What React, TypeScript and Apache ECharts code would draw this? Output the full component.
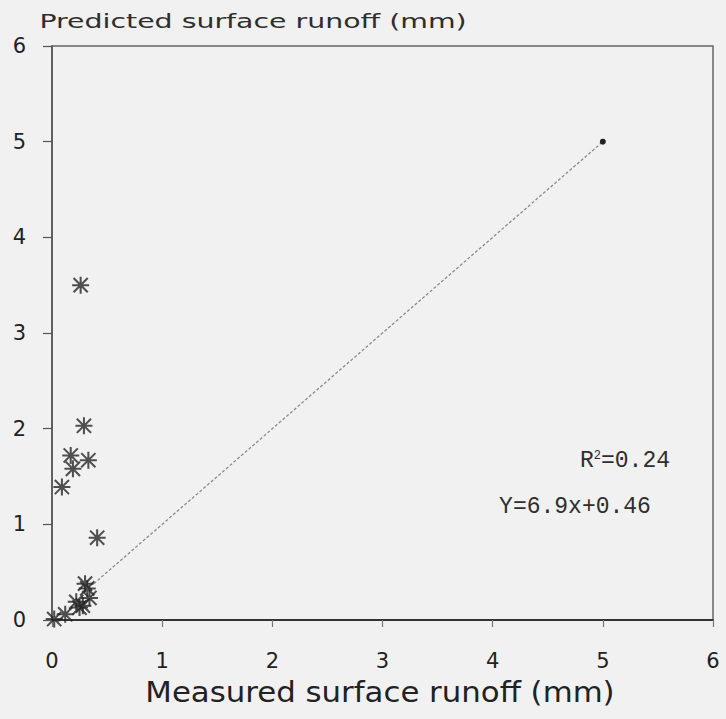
import React, { useEffect, useRef } from "react";
import * as echarts from "echarts";

// Measured vs predicted surface runoff (mm)
const measured = [0.26, 0.29, 0.17, 0.33, 0.19, 0.09, 0.41, 0.3, 0.32, 0.22, 0.28, 0.34, 0.25, 0.12, 0.02];
const predicted = [3.5, 2.03, 1.72, 1.67, 1.58, 1.39, 0.86, 0.38, 0.33, 0.19, 0.15, 0.23, 0.13, 0.06, 0.01];

// 1:1 reference segment
const refLineX = [0.38, 5];
const refLineY = [0.38, 5];

const axisTicks = [0, 1, 2, 3, 4, 5, 6];

const xTitle = "Measured surface runoff (mm)";
const yTitle = "Predicted surface runoff (mm)";
const rSquaredValue = "0.24";
const equationText = "Y=6.9x+0.46";

// asterisk built from four thin bars
const ASTERISK =
  "path://M8.8 0H11.2V20H8.8Z M0 8.8H20V11.2H0Z M2.5 0.8L19.2 17.5L17.5 19.2L0.8 2.5Z M17.5 0.8L19.2 2.5L2.5 19.2L0.8 17.5Z";

export default function App() {
  const ref = useRef<HTMLDivElement>(null);

  useEffect(() => {
    if (!ref.current) return;
    const chart = echarts.init(ref.current, undefined, { renderer: "svg" });
    const points = measured.map((x, i) => [x, predicted[i]]);
    const line = refLineX.map((x, i) => ({
      value: [x, refLineY[i]],
      symbolSize: i === refLineX.length - 1 ? 6 : 0,
    }));
    const tickFont = {
      fontFamily: "DejaVu Sans",
      fontSize: 21,
      color: "#222",
    };
    const monoFont = "Liberation Mono";
    chart.setOption({
      animation: false,
      backgroundColor: "#f1f1f1",
      grid: {
        left: 52,
        right: 13,
        top: 46,
        bottom: 99,
        show: true,
        borderColor: "#666",
        borderWidth: 1.5,
        backgroundColor: "transparent",
      },
      xAxis: {
        type: "value",
        min: axisTicks[0],
        max: axisTicks[axisTicks.length - 1],
        interval: 1,
        splitLine: { show: false },
        axisLine: { show: true, lineStyle: { color: "#333", width: 2 } },
        axisTick: { show: true, length: 7, lineStyle: { color: "#777", width: 1.2 } },
        axisLabel: { ...tickFont, margin: 30 },
      },
      yAxis: {
        type: "value",
        min: axisTicks[0],
        max: axisTicks[axisTicks.length - 1],
        interval: 1,
        splitLine: { show: false },
        axisLine: { show: true, lineStyle: { color: "#555", width: 1.5 } },
        axisTick: { show: true, length: 9, lineStyle: { color: "#555", width: 1.2 } },
        axisLabel: { ...tickFont, margin: 26 },
      },
      series: [
        {
          type: "line",
          data: line,
          symbol: "circle",
          showSymbol: true,
          itemStyle: { color: "#222" },
          lineStyle: { color: "#8a8a8a", width: 1.3, type: [3, 2] },
          z: 2,
        },
        {
          type: "scatter",
          data: points,
          symbol: ASTERISK,
          symbolSize: 17,
          itemStyle: { color: "#262626" },
          z: 3,
        },
      ],
      graphic: [
        {
          type: "text",
          x: 253,
          y: 21,
          scaleX: 1.42,
          style: {
            text: yTitle,
            fontFamily: "DejaVu Sans",
            fontSize: 20,
            fill: "#2e2e2e",
            align: "center",
            verticalAlign: "middle",
          },
        },
        {
          type: "text",
          x: 380,
          y: 692,
          scaleX: 1.1,
          style: {
            text: xTitle,
            fontFamily: "DejaVu Sans",
            fontSize: 28,
            fill: "#222",
            align: "center",
            verticalAlign: "middle",
          },
        },
        {
          type: "text",
          x: 625,
          y: 461,
          style: {
            text: "{a|R}{s|2}{a|=" + rSquaredValue + "}",
            align: "center",
            verticalAlign: "middle",
            rich: {
              a: { fontFamily: monoFont, fontSize: 23, fill: "#2e2e2e" },
              s: {
                fontFamily: monoFont,
                fontSize: 12,
                fill: "#2e2e2e",
                verticalAlign: "top",
                padding: [0, 0, 10, 0],
              },
            },
          },
        },
        {
          type: "text",
          x: 575,
          y: 507,
          style: {
            text: equationText,
            fontFamily: monoFont,
            fontSize: 23,
            fill: "#2e2e2e",
            align: "center",
            verticalAlign: "middle",
          },
        },
      ],
    });
    return () => chart.dispose();
  }, []);

  return (
    <div
      ref={ref}
      style={{ position: "fixed", left: 0, top: 0, width: 726, height: 719 }}
    />
  );
}
